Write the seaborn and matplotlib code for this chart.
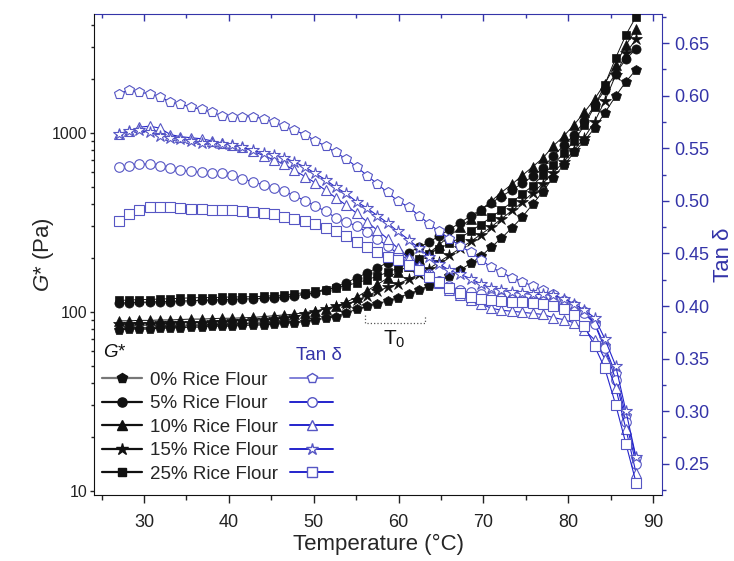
import matplotlib
matplotlib.use("Agg")
from matplotlib import pyplot as plt
from matplotlib.lines import Line2D
from matplotlib.ticker import MultipleLocator, LogLocator, NullFormatter, FuncFormatter
import seaborn as sns

# temperature sweep (degC)
temperature = [27.0, 28.2, 29.4, 30.7, 31.9, 33.1, 34.3, 35.5, 36.8, 38.0,
               39.2, 40.4, 41.6, 42.9, 44.1, 45.3, 46.5, 47.7, 49.0, 50.2,
               51.4, 52.6, 53.8, 55.1, 56.3, 57.5, 58.7, 59.9, 61.2, 62.4,
               63.6, 64.8, 66.0, 67.3, 68.5, 69.7, 70.9, 72.1, 73.4, 74.6,
               75.8, 77.0, 78.2, 79.5, 80.7, 81.9, 83.1, 84.3, 85.6, 86.8, 88.0]

labels = ["0% Rice Flour", "5% Rice Flour", "10% Rice Flour", "15% Rice Flour", "25% Rice Flour"]
markers = ["p", "o", "^", "*", "s"]
marker_sizes = [7.2, 6.6, 7.0, 8.6, 6.2]

# complex modulus G* (Pa)
g_0 = [79, 80, 80, 80, 81, 81, 81.5, 82, 82, 83, 83, 83, 84, 84, 84.5, 85, 86, 87, 88, 90,
       92, 94, 99, 103, 107, 111, 115, 120, 126, 132, 140, 148, 158, 172, 186, 204, 229, 257, 295, 339,
       398, 468, 562, 661, 776, 902, 1059, 1288, 1603, 1928, 2249]
g_5 = [112, 112, 113, 113, 114, 114, 115, 115, 116, 116, 117, 117, 118, 118, 119, 120, 121, 123, 125, 128,
       132, 137, 145, 155, 165, 176, 188, 200, 214, 229, 245, 265, 288, 315, 343, 372, 405, 440, 480, 523,
       570, 635, 740, 850, 975, 1160, 1420, 1730, 2140, 2580, 2935]
g_10 = [89, 89, 89.5, 89.5, 90, 90, 90.5, 91, 91, 91.5, 92, 92, 92.5, 93, 94, 95, 96, 97, 99, 101,
        104, 107, 113, 121, 131, 142, 154, 167, 181, 196, 213, 237, 265, 296, 331, 370, 414, 463, 517, 578,
        645, 720, 840, 960, 1110, 1300, 1540, 1880, 2400, 3080, 3800]
g_15 = [85, 85, 85.5, 85.5, 86, 86, 86.5, 87, 87, 87.5, 88, 88.5, 89, 89.5, 90, 91, 92, 94, 97, 100,
        104, 108, 110, 116, 123, 130, 137, 143, 152, 162, 174, 190, 207, 226, 247, 270, 297, 330, 368, 410,
        460, 520, 595, 690, 800, 940, 1150, 1500, 2100, 2780, 3340]
g_25 = [116, 116, 117, 117, 118, 118, 119, 119.5, 120, 120, 120.5, 121, 121, 121.5, 122, 123, 124, 126, 128, 130,
        133, 136, 140, 145, 151, 158, 166, 175, 186, 198, 211, 225, 241, 259, 282, 307, 337, 370, 410, 455,
        505, 580, 660, 770, 900, 1100, 1400, 1850, 2620, 3520, 4450]

# loss tangent
tan_0 = [0.602, 0.605, 0.603, 0.602, 0.599, 0.594, 0.592, 0.589, 0.587, 0.584, 0.581, 0.580, 0.580, 0.580,
         0.578, 0.575, 0.571, 0.567, 0.563, 0.557, 0.552, 0.546, 0.540, 0.532, 0.524, 0.516, 0.508, 0.500,
         0.494, 0.486, 0.478, 0.471, 0.464, 0.457, 0.451, 0.444, 0.437, 0.432, 0.427, 0.423, 0.419, 0.415,
         0.411, 0.406, 0.401, 0.395, 0.384, 0.362, 0.335, 0.295, 0.255]
tan_5 = [0.532, 0.533, 0.535, 0.535, 0.533, 0.531, 0.529, 0.528, 0.527, 0.526, 0.526, 0.525, 0.521, 0.518,
         0.515, 0.512, 0.509, 0.505, 0.500, 0.495, 0.490, 0.484, 0.480, 0.476, 0.470, 0.464, 0.457, 0.450,
         0.444, 0.436, 0.430, 0.424, 0.419, 0.415, 0.413, 0.411, 0.409, 0.408, 0.407, 0.406, 0.406, 0.405,
         0.405, 0.403, 0.400, 0.393, 0.383, 0.360, 0.330, 0.290, 0.250]
tan_10 = [0.564, 0.566, 0.570, 0.571, 0.569, 0.563, 0.561, 0.560, 0.559, 0.557, 0.555, 0.553, 0.551, 0.547,
          0.543, 0.539, 0.535, 0.529, 0.523, 0.517, 0.510, 0.503, 0.496, 0.488, 0.480, 0.472, 0.464, 0.455,
          0.446, 0.438, 0.430, 0.422, 0.415, 0.410, 0.406, 0.402, 0.398, 0.396, 0.395, 0.394, 0.393, 0.392,
          0.389, 0.387, 0.384, 0.377, 0.368, 0.350, 0.322, 0.283, 0.241]
tan_15 = [0.564, 0.566, 0.567, 0.565, 0.562, 0.560, 0.559, 0.557, 0.555, 0.555, 0.554, 0.553, 0.551, 0.548,
          0.545, 0.544, 0.541, 0.537, 0.532, 0.526, 0.520, 0.513, 0.507, 0.499, 0.493, 0.486, 0.479, 0.471,
          0.463, 0.455, 0.447, 0.440, 0.434, 0.430, 0.426, 0.421, 0.417, 0.415, 0.413, 0.412, 0.411, 0.411,
          0.410, 0.407, 0.402, 0.396, 0.389, 0.369, 0.343, 0.300, 0.256]
tan_25 = [0.481, 0.487, 0.491, 0.494, 0.494, 0.494, 0.493, 0.492, 0.492, 0.491, 0.491, 0.491, 0.490, 0.489,
          0.488, 0.487, 0.485, 0.483, 0.481, 0.478, 0.474, 0.471, 0.467, 0.461, 0.456, 0.451, 0.447, 0.444,
          0.439, 0.434, 0.428, 0.423, 0.417, 0.412, 0.409, 0.407, 0.406, 0.405, 0.404, 0.404, 0.403, 0.402,
          0.400, 0.397, 0.391, 0.381, 0.362, 0.341, 0.306, 0.269, 0.232]

g_series = [g_0, g_5, g_10, g_15, g_25]
tan_series = [tan_0, tan_5, tan_10, tan_15, tan_25]

sns.set_style("ticks")
plt.rcParams['font.family'] = ['Liberation Sans', 'DejaVu Sans']
plt.rcParams['mathtext.fontset'] = 'custom'
plt.rcParams['mathtext.rm'] = 'Liberation Sans'
plt.rcParams['mathtext.it'] = 'Liberation Sans:italic'

black = '#111111'
mark_blue = '#5656c4'
line_blue = '#2424cc'
axis_blue = '#3434a8'

fig, ax = plt.subplots(figsize=(7.34, 5.61), dpi=100)
fig.subplots_adjust(left=0.128, right=0.902, bottom=0.118, top=0.975)
ax2 = ax.twinx()

# G* on the left log axis
for vals, m, ms in zip(g_series, markers, marker_sizes):
    sns.lineplot(x=temperature, y=vals, ax=ax, color=black, linewidth=0.7,
                 marker=m, markersize=ms, markerfacecolor=black,
                 markeredgecolor=black, markeredgewidth=0.5, legend=False)

# tan delta on the right axis
for vals, m, ms in zip(tan_series, markers, marker_sizes):
    sns.lineplot(x=temperature, y=vals, ax=ax2, color=line_blue, linewidth=0.8,
                 marker=m, markersize=ms + 0.3, markerfacecolor='white',
                 markeredgecolor=mark_blue, markeredgewidth=0.8, legend=False)

ax.set_yscale('log')
ax.set_xlim(24.1, 91.06)
ax.set_ylim(9.5, 4600)
ax2.set_ylim(0.2205, 0.6776)

ax.xaxis.set_major_locator(MultipleLocator(10))
ax.xaxis.set_minor_locator(MultipleLocator(5))
ax.yaxis.set_major_locator(LogLocator(base=10))
ax.yaxis.set_minor_locator(LogLocator(base=10, subs=range(2, 10)))
ax.yaxis.set_major_formatter(FuncFormatter(lambda v, p: f"{v:g}"))
ax.yaxis.set_minor_formatter(NullFormatter())
ax2.yaxis.set_major_locator(MultipleLocator(0.05))
ax2.yaxis.set_minor_locator(MultipleLocator(0.025))
ax2.yaxis.set_major_formatter(FuncFormatter(lambda v, p: f"{v:.2f}"))

ax.tick_params(axis='x', which='major', direction='out', length=6, width=1, pad=8,
               labelsize=13, colors='#222222')
ax.tick_params(axis='x', which='minor', direction='out', length=3.5, width=1, color='#222222')
ax.tick_params(axis='y', which='major', direction='out', length=3, width=1, pad=1.5,
               labelsize=11.5, colors='#222222')
ax.tick_params(axis='y', which='minor', direction='out', length=2, width=1, color='#222222')
ax2.tick_params(axis='y', which='major', direction='out', length=5, width=1,
                labelsize=13, color=axis_blue, labelcolor=axis_blue)
ax2.tick_params(axis='y', which='minor', direction='out', length=3, width=1, color=axis_blue)

# blue top axis with inward ticks
top = ax.secondary_xaxis('top')
top.xaxis.set_major_locator(MultipleLocator(10))
top.xaxis.set_minor_locator(MultipleLocator(5))
top.tick_params(axis='x', which='major', direction='in', length=5, width=1,
                color=axis_blue, labeltop=False)
top.tick_params(axis='x', which='minor', direction='in', length=3, width=1, color=axis_blue)
top.spines['top'].set_color(axis_blue)

for s in ['top', 'right']:
    ax.spines[s].set_visible(False)
for s in ['top', 'left', 'bottom']:
    ax2.spines[s].set_visible(False)
ax2.spines['right'].set_color(axis_blue)
for s in ['left', 'bottom']:
    ax.spines[s].set_color(black)

ax.set_xlabel("Temperature (°C)", fontsize=16, labelpad=2)
ax.set_ylabel(r"$G$* (Pa)", fontsize=16)
ax.yaxis.set_label_coords(-0.066, 0.5)
ax2.set_ylabel("Tan δ", fontsize=16, color=axis_blue, labelpad=3)

# T0 marker
ax.plot([56.0, 56.0, 63.1, 63.1], [96, 87, 87, 96], linestyle=':', color='#555555', linewidth=0.9)
ax.text(59.5, 70, r"T$_0$", fontsize=15, ha='center', va='center', color=black)

# legend: black G* handles with labels, blue tan delta handles to the right
black_handles = [Line2D([], [], color=black, lw=1.6, marker=m, markersize=ms,
                        markerfacecolor=black, markeredgecolor=black)
                 for m, ms in zip(markers, marker_sizes)]
blue_handles = [Line2D([], [], color=line_blue, lw=1.4, marker=m, markersize=ms + 0.3,
                       markerfacecolor='white', markeredgecolor=mark_blue)
                for m, ms in zip(markers, marker_sizes)]
black_handles[0].set_color('#777777')
black_handles[0].set_markerfacecolor(black)
black_handles[0].set_markeredgecolor(black)
blue_handles[0].set_color('#8080d8')

leg1 = ax2.legend(black_handles, labels, loc='upper left', bbox_to_anchor=(0.014, 0.256),
                  frameon=False, fontsize=13.5, handlelength=2.15, handletextpad=0.4,
                  labelspacing=0.34, borderpad=0, borderaxespad=0)
ax2.add_artist(leg1)
ax2.legend(blue_handles, [' '] * 5, loc='upper left', bbox_to_anchor=(0.345, 0.256),
           frameon=False, fontsize=13.5, handlelength=2.3, handletextpad=0.2,
           labelspacing=0.34, borderpad=0, borderaxespad=0)

ax.text(0.016, 0.297, r"$G$*", transform=ax.transAxes, fontsize=13.5, va='center', color=black)
ax.text(0.356, 0.29, "Tan δ", transform=ax.transAxes, fontsize=13.5, va='center', color=axis_blue)

plt.savefig("out.png", dpi=100)
